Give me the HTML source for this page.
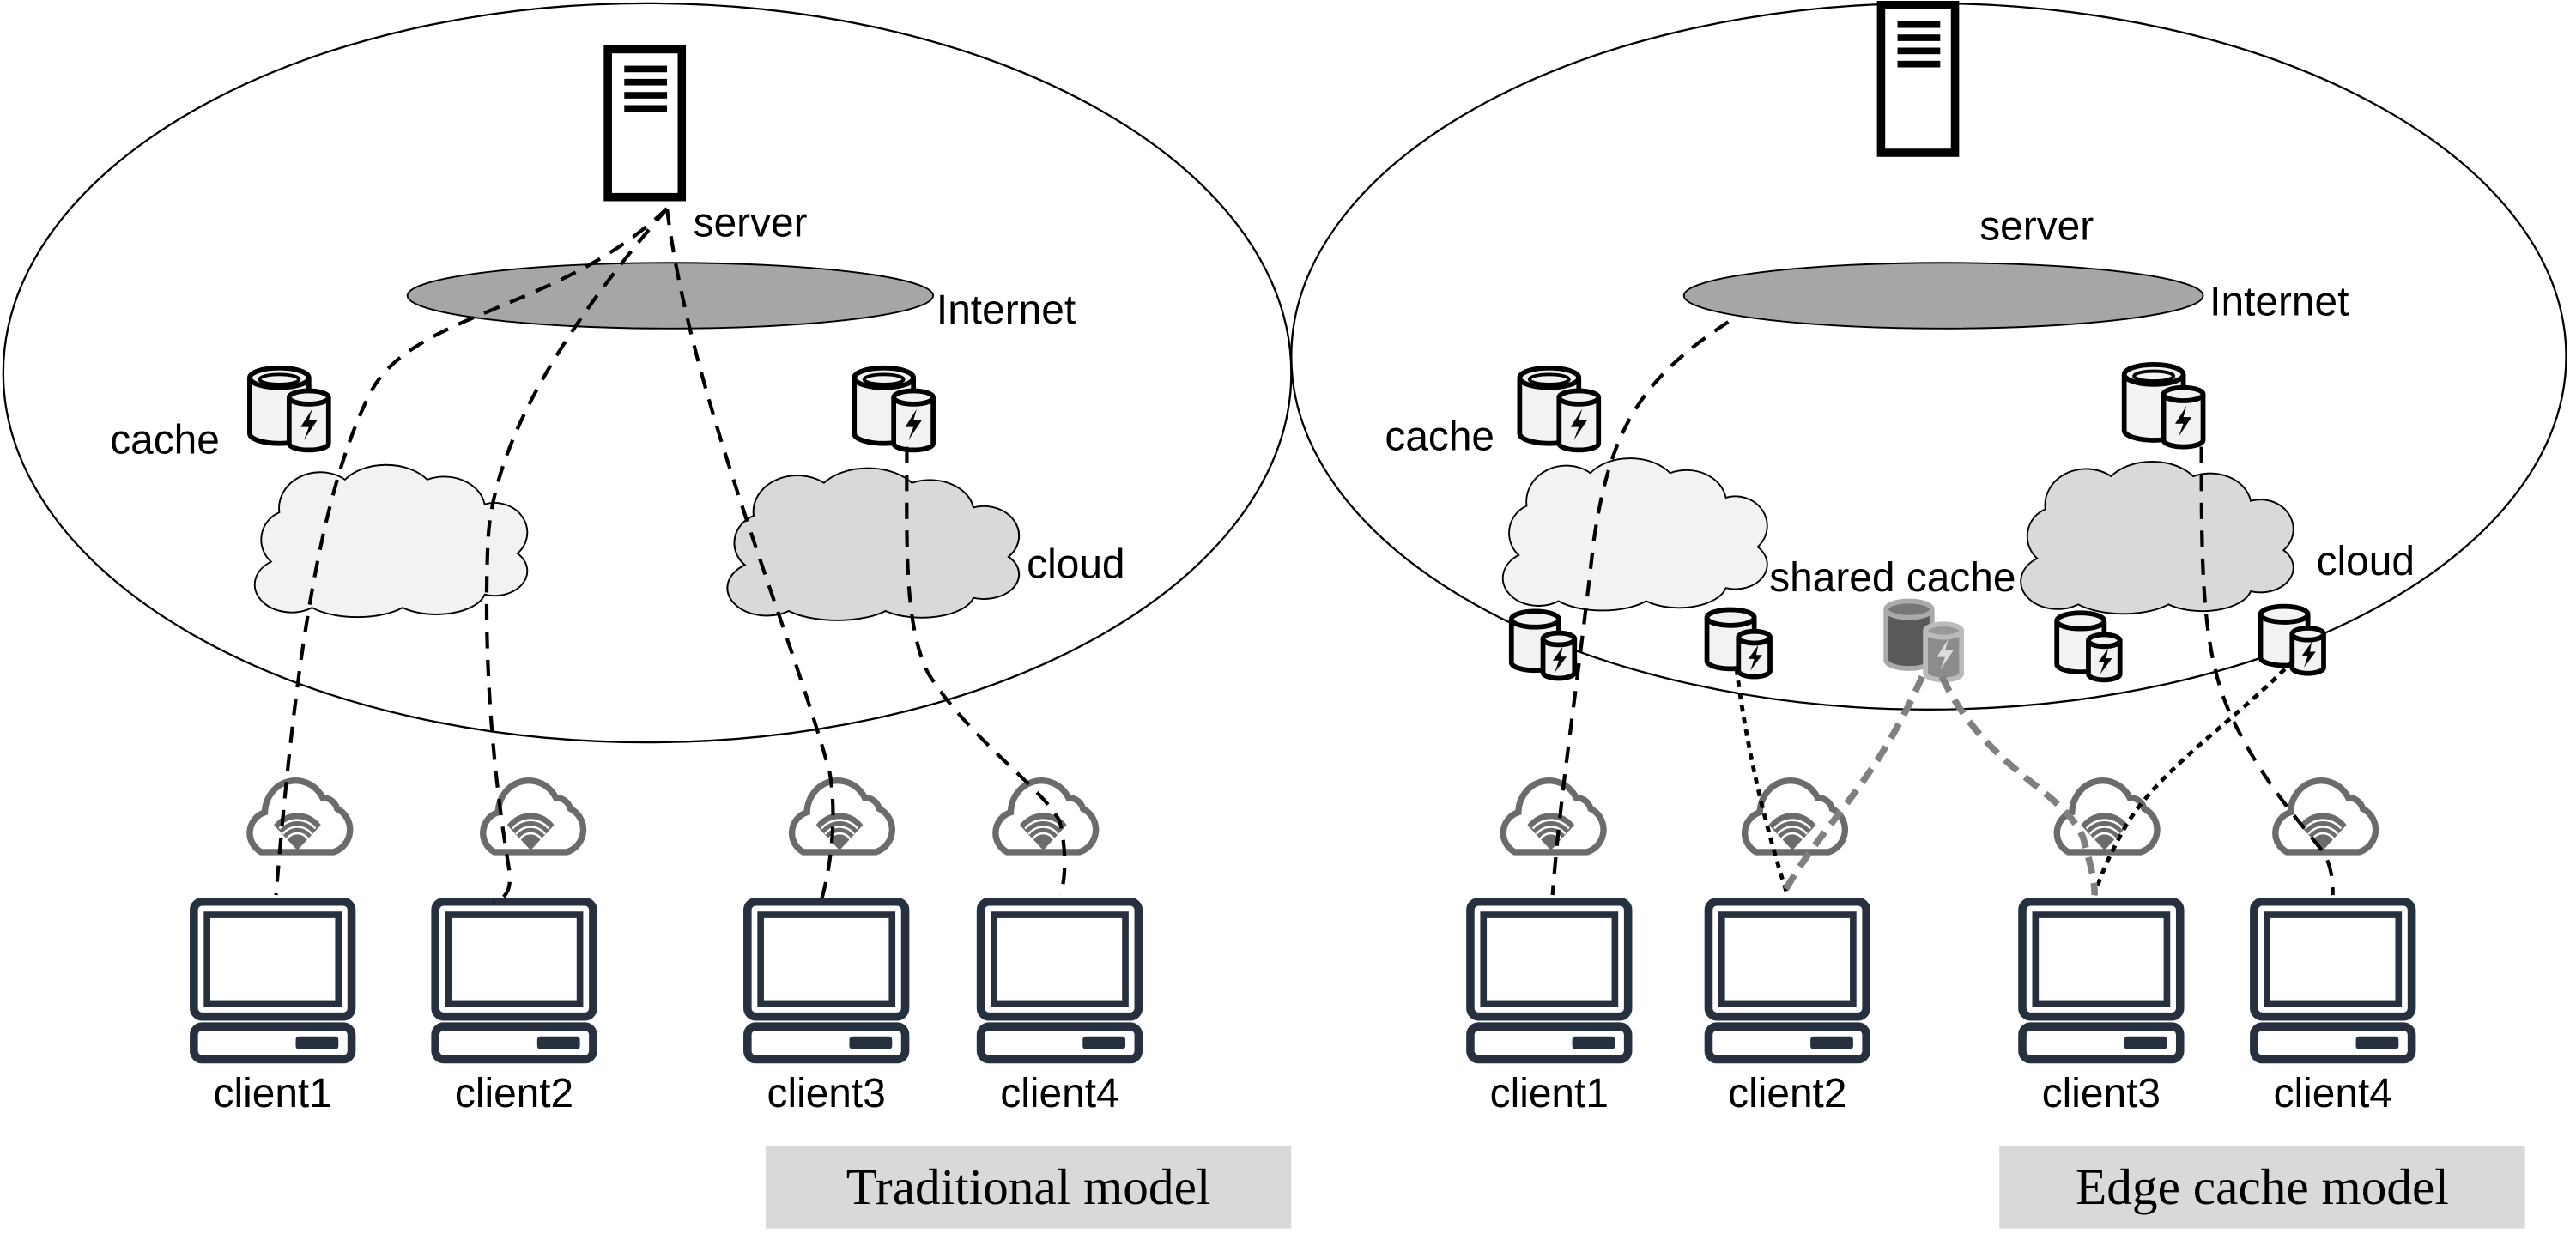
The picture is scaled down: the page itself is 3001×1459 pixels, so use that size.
<!DOCTYPE html>
<html><head><meta charset="utf-8"><style>
html,body{margin:0;padding:0;background:#fff;}
svg{display:block;}
text{font-family:"Liberation Sans",sans-serif;}
</style></head><body>
<svg width="3001" height="1459" viewBox="0 0 1568 762.3" xmlns="http://www.w3.org/2000/svg">
<defs>
<g id="cache">
  <path d="M0,8 L0,42 A18,6 0 0 0 36,42 L36,8" fill="#f2f2f2" stroke="#000" stroke-width="3"/>
  <ellipse cx="18" cy="8" rx="18" ry="6" fill="#f2f2f2" stroke="#000" stroke-width="3"/>
  <ellipse cx="18" cy="9" rx="12" ry="3" fill="none" stroke="#000" stroke-width="2"/>
  <path d="M24,20 L24,48 A12,4 0 0 0 48,48 L48,20" fill="#f2f2f2" stroke="#000" stroke-width="3"/>
  <ellipse cx="36" cy="20" rx="12" ry="4" fill="#f2f2f2" stroke="#000" stroke-width="3"/>
  <path d="M38,27 L31,38 L36,38 L33,46 L41,34 L36,34 Z" fill="#000"/>
</g>
<g id="scache">
  <path d="M0,5 L0,27 A12,4 0 0 0 24,27 L24,5" fill="#f2f2f2" stroke="#000" stroke-width="2.5"/>
  <ellipse cx="12" cy="5" rx="12" ry="4" fill="#f2f2f2" stroke="#000" stroke-width="2.5"/>
  <path d="M16,15 L16,32 A8,3 0 0 0 32,32 L32,15" fill="#f2f2f2" stroke="#000" stroke-width="2.5"/>
  <ellipse cx="24" cy="15" rx="8" ry="3" fill="#f2f2f2" stroke="#000" stroke-width="2.5"/>
  <path d="M26,19 L21,26 L24,26 L22,32 L28,24 L25,24 Z" fill="#000"/>
</g>
<path id="cloudp" d="M20,60 a18,18 0 0 1 5,-30 a25,22 0 0 1 40,-20 a30,20 0 0 1 50,0 a25,20 0 0 1 35,15 a20,18 0 0 1 20,30 a20,15 0 0 1 -20,25 a30,15 0 0 1 -50,8 a35,15 0 0 1 -55,0 a20,15 0 0 1 -25,-28 z"/>
<g id="wifi">
  <path d="M10,48 a12,12 0 0 1 2,-22 a17,18 0 0 1 32,-8 a8,8 0 0 1 8,6 a13,13 0 0 1 -2,24 z" fill="#fff" stroke="#6b6b6b" stroke-width="3.5"/>
  <path d="M17,33 a16,16 0 0 1 26,0 L30,47 Z" fill="#6b6b6b"/>
  <path d="M20,35 a13,13 0 0 1 20,0 M22,38 a10,10 0 0 1 16,0 M24,41 a7,7 0 0 1 12,0" stroke="#fff" stroke-width="1.2" fill="none"/>
</g>
<g id="pc">
  <rect x="0" y="0" width="96" height="70" rx="5" fill="#fff" stroke="#26303f" stroke-width="5"/>
  <rect x="8" y="8" width="80" height="54" fill="#fff" stroke="#26303f" stroke-width="4"/>
  <rect x="0" y="76" width="96" height="20" rx="5" fill="#fff" stroke="#26303f" stroke-width="5"/>
  <rect x="62" y="82" width="26" height="8" rx="2" fill="#26303f"/>
</g>
<g id="server">
  <rect x="0" y="0" width="45" height="90" fill="#fff" stroke="#000" stroke-width="5"/>
  <rect x="10" y="10" width="26" height="4" fill="#000"/>
  <rect x="10" y="18" width="26" height="4" fill="#000"/>
  <rect x="10" y="26" width="26" height="4" fill="#000"/>
  <rect x="10" y="34" width="26" height="4" fill="#000"/>
</g>
</defs>

<ellipse cx="394" cy="227" rx="392" ry="225" fill="none" stroke="#000" stroke-width="1.2"/>
<ellipse cx="1174" cy="217" rx="388" ry="215" fill="none" stroke="#000" stroke-width="1.2"/>

<use href="#server" x="370" y="30"/>
<text x="422" y="144" font-size="25">server</text>
<ellipse cx="408" cy="180" rx="160" ry="20" fill="#a6a6a6" stroke="#000" stroke-width="1"/>
<text x="570" y="197" font-size="25">Internet</text>
<use href="#cache" x="152" y="222"/>
<text x="67" y="276" font-size="25">cache</text>
<use href="#cache" x="520" y="222"/>
<use href="#cloudp" transform="translate(145,282)" fill="#f2f2f2" stroke="#000" stroke-width="1"/>
<use href="#cloudp" transform="translate(432,284) scale(1.07,1)" fill="#d9d9d9" stroke="#000" stroke-width="1"/>
<text x="625" y="352" font-size="25">cloud</text>

<use href="#server" x="1145" y="3"/>
<text x="1205" y="146" font-size="25">server</text>
<ellipse cx="1183" cy="180" rx="158" ry="20" fill="#a6a6a6" stroke="#000" stroke-width="1"/>
<text x="1345" y="192" font-size="25">Internet</text>
<use href="#cache" x="925" y="222"/>
<text x="843" y="274" font-size="25">cache</text>
<use href="#cache" x="1293" y="220"/>
<use href="#cloudp" transform="translate(905,278) scale(0.97,1)" fill="#f2f2f2" stroke="#000" stroke-width="1"/>
<use href="#cloudp" transform="translate(1220,280)" fill="#d9d9d9" stroke="#000" stroke-width="1"/>
<text x="1410" y="350" font-size="25">cloud</text>
<text x="1077" y="360" font-size="25">shared cache</text>
<use href="#scache" transform="translate(920,371) scale(1.2)"/>
<use href="#scache" transform="translate(1039,370) scale(1.2)"/>
<use href="#scache" transform="translate(1252,372) scale(1.2)"/>
<use href="#scache" transform="translate(1376,368) scale(1.2)"/>
<g>
  <path d="M1148,371 L1148,402 A14,5 0 0 0 1176,402 L1176,371" fill="#595959" stroke="#aaa" stroke-width="3"/>
  <ellipse cx="1162" cy="371" rx="14" ry="5" fill="#777" stroke="#aaa" stroke-width="3"/>
  <path d="M1172,384 L1172,410 A11,4 0 0 0 1194,410 L1194,384" fill="#8c8c8c" stroke="#bbb" stroke-width="3"/>
  <ellipse cx="1183" cy="384" rx="11" ry="4" fill="#999" stroke="#bbb" stroke-width="3"/>
  <path d="M1186,389 L1179,400 L1184,400 L1181,408 L1189,396 L1184,396 Z" fill="#ddd"/>
</g>

<use href="#wifi" transform="translate(148,466) scale(1.1)"/>
<use href="#wifi" transform="translate(290,466) scale(1.1)"/>
<use href="#wifi" transform="translate(478,466) scale(1.1)"/>
<use href="#wifi" transform="translate(602,466) scale(1.1)"/>
<use href="#wifi" transform="translate(911,466) scale(1.1)"/>
<use href="#wifi" transform="translate(1058,466) scale(1.1)"/>
<use href="#wifi" transform="translate(1248,466) scale(1.1)"/>
<use href="#wifi" transform="translate(1381,466) scale(1.1)"/>

<use href="#pc" x="118" y="549"/>
<use href="#pc" x="265" y="549"/>
<use href="#pc" x="455" y="549"/>
<use href="#pc" x="597" y="549"/>
<use href="#pc" x="895" y="549"/>
<use href="#pc" x="1040" y="549"/>
<use href="#pc" x="1231" y="549"/>
<use href="#pc" x="1372" y="549"/>
<g font-size="25" text-anchor="middle">
<text x="166" y="674">client1</text>
<text x="313" y="674">client2</text>
<text x="503" y="674">client3</text>
<text x="645" y="674">client4</text>
<text x="943" y="674">client1</text>
<text x="1088" y="674">client2</text>
<text x="1279" y="674">client3</text>
<text x="1420" y="674">client4</text>
</g>

<g fill="none" stroke="#000" stroke-width="2.2" stroke-dasharray="10,7">
<path d="M406,127 C340,190 250,190 225,240 C195,300 180,400 168,545"/>
<path d="M406,127 C360,180 300,260 297,330 C294,400 300,470 310,530 C312,545 305,548 300,549"/>
<path d="M406,127 C420,240 480,380 505,470 C510,500 505,530 500,548"/>
<path d="M552,272 C552,330 550,380 565,410 C590,450 635,480 645,500 C650,520 648,540 645,545"/>
<path d="M1052,196 C1000,230 980,260 970,330 C960,420 950,480 945,545"/>
<path d="M1340,272 C1340,350 1340,400 1360,440 C1380,480 1400,500 1415,520 C1420,530 1420,540 1420,545"/>
</g>
<g fill="none" stroke="#000" stroke-width="2.5" stroke-dasharray="4,3.5">
<path d="M1057,407 C1065,470 1080,520 1088,545"/>
<path d="M1396,402 C1360,440 1310,470 1290,510 C1282,525 1278,535 1275,545"/>
</g>
<g fill="none" stroke="#808080" stroke-width="4" stroke-dasharray="10,6">
<path d="M1170,412 C1140,480 1110,500 1085,545"/>
<path d="M1182,412 C1210,470 1255,480 1268,510 C1272,525 1275,535 1275,545"/>
</g>

<rect x="466" y="698" width="320" height="50" fill="#d9d9d9"/>
<text x="626" y="733" font-size="31" text-anchor="middle" style="font-family:'Liberation Serif',serif">Traditional model</text>
<rect x="1217" y="698" width="320" height="50" fill="#d9d9d9"/>
<text x="1377" y="733" font-size="31" text-anchor="middle" style="font-family:'Liberation Serif',serif">Edge cache model</text>
</svg>
</body></html>
